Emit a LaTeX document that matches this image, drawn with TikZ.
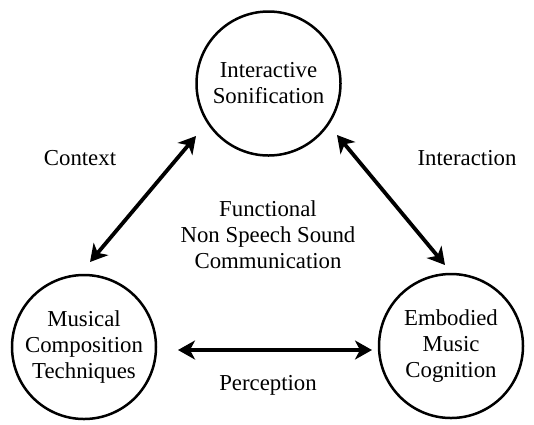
\documentclass[tikz,border=0pt]{standalone}
\usepackage{fontspec}
\setmainfont{Liberation Serif}
\usetikzlibrary{arrows.meta}
\begin{document}
\begin{tikzpicture}[x=1pt,y=-1pt,
  every node/.style={font=\fontsize{22.8pt}{26pt}\selectfont, align=center, inner sep=0pt},
  topic/.style={circle, draw, line width=2.5pt, minimum size=144pt},
  link/.style={line width=3.8pt, {Stealth[length=17pt,width=19pt,inset=5pt]}-{Stealth[length=17pt,width=19pt,inset=5pt]}}]
\useasboundingbox (0,0) rectangle (534,424);
\node[topic] (is) at (268.5,83.5) {Interactive\\Sonification};
\node[topic] (mct) at (84,347) {Musical\\Composition\\Techniques};
\node[topic] (emc) at (451,346) {Embodied\\Music\\Cognition};
\node (ctx) at (80,158) {Context};
\node (int) at (467,158) {Interaction};
\node (fn) at (268,235) {Functional\\Non Speech Sound\\Communication};
\node (per) at (268,385) {Perception};
\coordinate (a1) at (90,262);
\coordinate (a2) at (196,136);
\coordinate (b1) at (337,135);
\coordinate (b2) at (445,265);
\coordinate (c1) at (178,350);
\coordinate (c2) at (372,350);
\draw[link] (a1) -- (a2);
\draw[link] (b1) -- (b2);
\draw[link] (c1) -- (c2);
\end{tikzpicture}
\end{document}
